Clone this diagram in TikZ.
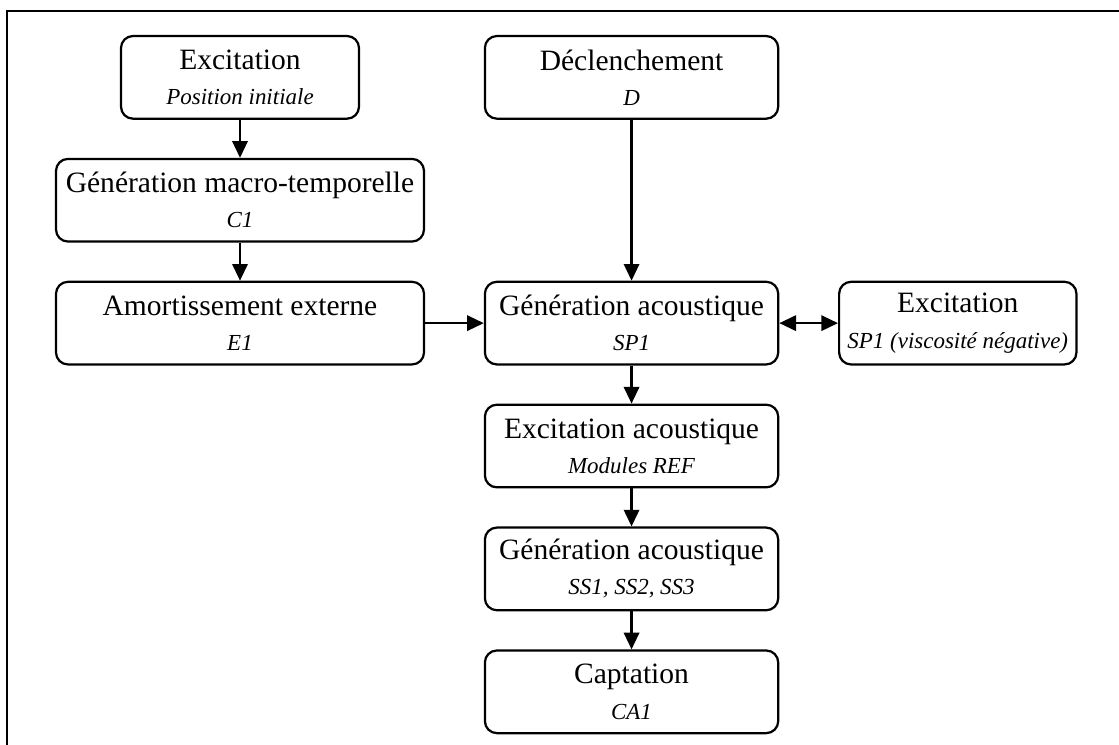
\documentclass[tikz,border=0pt]{standalone}
\usepackage{fontspec}
\setmainfont{Liberation Serif}
\usetikzlibrary{positioning,arrows.meta}
\newcommand\soustitre{\fontsize{9.8}{15}\selectfont\itshape}

\begin{document}
\begin{tikzpicture}[node distance=0.57cm,
    every node/.style={font=\fontsize{12.6}{15}\selectfont},
    bloc/.style={draw,line width=0.95pt,rounded corners=0.18cm,align=center,minimum height=1.24cm,inner sep=2pt},
    fleche/.style={-{Triangle[length=2.5mm,width=2.3mm]},line width=0.95pt}]
      \useasboundingbox (0,0) rectangle (16.785,-11.16);
      \draw[line width=0.95pt] (0.11,-0.165) rectangle (17.2,-11.6);
      \node[bloc,minimum width=3.57cm] (exc) at (3.6,-1.16) {Excitation\\{\soustitre Position initiale}};
      \node[bloc,minimum width=5.52cm,below=of exc] (macro) {Génération macro-temporelle\\{\soustitre C1}};
      \node[bloc,minimum width=5.52cm,below=of macro] (amort) {Amortissement externe\\{\soustitre E1}};
      \node[bloc,minimum width=4.4cm,right=0.88cm of amort] (sp) {Génération acoustique\\{\soustitre SP1}};
      \node[bloc,minimum width=4.4cm] (decl) at (sp |- exc) {Déclenchement\\{\soustitre D}};
      \node[bloc,minimum width=3.56cm,right=0.88cm of sp] (visc) {Excitation\\{\soustitre SP1 (viscosité négative)}};
      \node[bloc,minimum width=4.4cm,below=of sp] (ref) {Excitation acoustique\\{\soustitre Modules REF}};
      \node[bloc,minimum width=4.4cm,below=of ref] (ss) {Génération acoustique\\{\soustitre SS1, SS2, SS3}};
      \node[bloc,minimum width=4.4cm,below=of ss] (capt) {Captation\\{\soustitre CA1}};
      \draw[fleche] (exc) -- (macro);
      \draw[fleche] (macro) -- (amort);
      \draw[fleche] (amort) -- (sp);
      \draw[fleche] (decl) -- (sp);
      \draw[fleche,{Triangle[length=2.5mm,width=2.3mm]}-{Triangle[length=2.5mm,width=2.3mm]}] (sp) -- (visc);
      \draw[fleche] (sp) -- (ref);
      \draw[fleche] (ref) -- (ss);
      \draw[fleche] (ss) -- (capt);
    \end{tikzpicture}
\end{document}
